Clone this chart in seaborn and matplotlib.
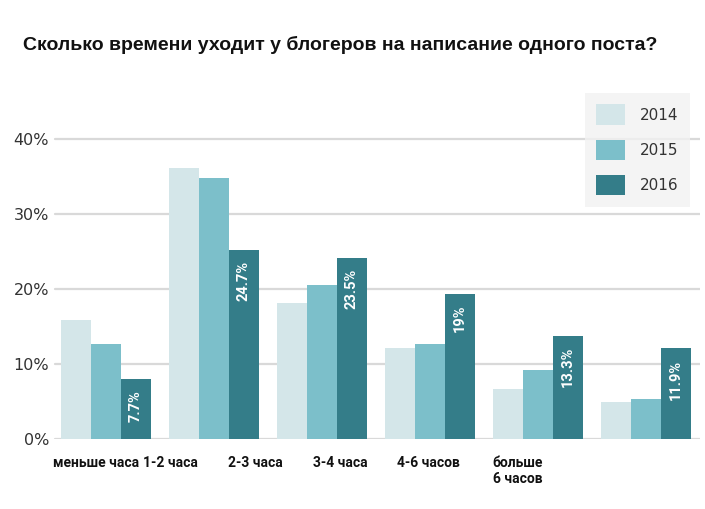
import matplotlib
matplotlib.use("Agg")
import matplotlib.pyplot as plt
import seaborn as sns
import pandas as pd
from matplotlib.patches import Patch

categories = ["меньше часа", "1-2 часа", "2-3 часа", "3-4 часа", "4-6 часов", "больше\n6 часов"]
years = ["2014", "2015", "2016"]
v2014 = [15.9, 36.2, 18.2, 12.2, 6.7, 5.0]
v2015 = [12.7, 34.9, 20.6, 12.7, 9.25, 5.4]
v2016 = [8.0, 25.3, 24.2, 19.4, 13.8, 12.1]
labels2016 = ["7.7%", "24.7%", "23.5%", "19%", "13.3%", "11.9%"]
yticks = [0, 10, 20, 30, 40]
ytick_labels = ["0%", "10%", "20%", "30%", "40%"]
colors = ["#d4e6e9", "#7cbfca", "#347d89"]

rows = []
for yr, vals in zip(years, [v2014, v2015, v2016]):
    for c, v in zip(categories, vals):
        rows.append({"cat": c, "year": yr, "val": v})
df = pd.DataFrame(rows)

sns.set_theme(style="white")
plt.rcParams["font.family"] = ["DejaVu Sans"]

fig = plt.figure(figsize=(7.05, 5.09), dpi=100)
ax = fig.add_axes([52/705, 70/509, 648/705, 346/509])

sns.barplot(data=df, x="cat", y="val", hue="year", order=categories, hue_order=years,
            palette=colors, width=0.833, gap=0, saturation=1, legend=False, ax=ax,
            linewidth=0, edgecolor="none", zorder=3)

ax.set_xlim(-0.5, 5.5)
ax.set_ylim(0, 46.2)
for y in yticks:
    ax.axhline(y, xmin=3/648, xmax=1, color="#d9d9d9", lw=1.6, zorder=1)
for s in ax.spines.values():
    s.set_visible(False)
ax.set_xlabel("")
ax.set_ylabel("")

ax.set_yticks(yticks)
ax.set_yticklabels(ytick_labels, fontsize=11.5, color="#333333", family="DejaVu Sans")
ax.tick_params(axis="y", length=0, pad=2)

# x labels (offset positions as in reference)
label_pos = [-0.49, 0.343, 1.13, 1.917, 2.69, 3.58]
ax.set_xticks(label_pos)
ax.set_xticklabels(categories, fontsize=10, fontweight="bold", color="#111111",
                   family="Roboto", ha="left", va="top", linespacing=1.25)
ax.tick_params(axis="x", length=0, pad=12)

# labels on 2016 bars
bars2016 = ax.containers[2]
for rect, lab in zip(bars2016, labels2016):
    x = rect.get_x() + rect.get_width() / 2
    top = rect.get_height()
    ax.annotate(lab, (x, top), xytext=(0, -8), textcoords="offset points",
                rotation=90, ha="center", va="top", color="white",
                fontsize=10.5, fontweight="bold", family="Roboto", zorder=5)

fig.text(23/705, 1 - 45/509, "Сколько времени уходит у блогеров на написание одного поста?",
         fontsize=14, fontweight="bold", family="Liberation Sans", color="#111111", va="center")

handles = [Patch(facecolor=c, edgecolor="none") for c in colors]
leg = ax.legend(handles, years, loc="upper right", bbox_to_anchor=(690/705, 1 - 93/509),
                bbox_transform=fig.transFigure, frameon=True, fancybox=False,
                facecolor="#f2f2f2", edgecolor="#f2f2f2", fontsize=11,
                handlelength=1.85, handleheight=1.7, labelspacing=0.95,
                borderpad=0.75, handletextpad=1.0, borderaxespad=0)
for t in leg.get_texts():
    t.set_color("#333333")
leg.get_frame().set_linewidth(0)

fig.savefig("out.png", dpi=100)
